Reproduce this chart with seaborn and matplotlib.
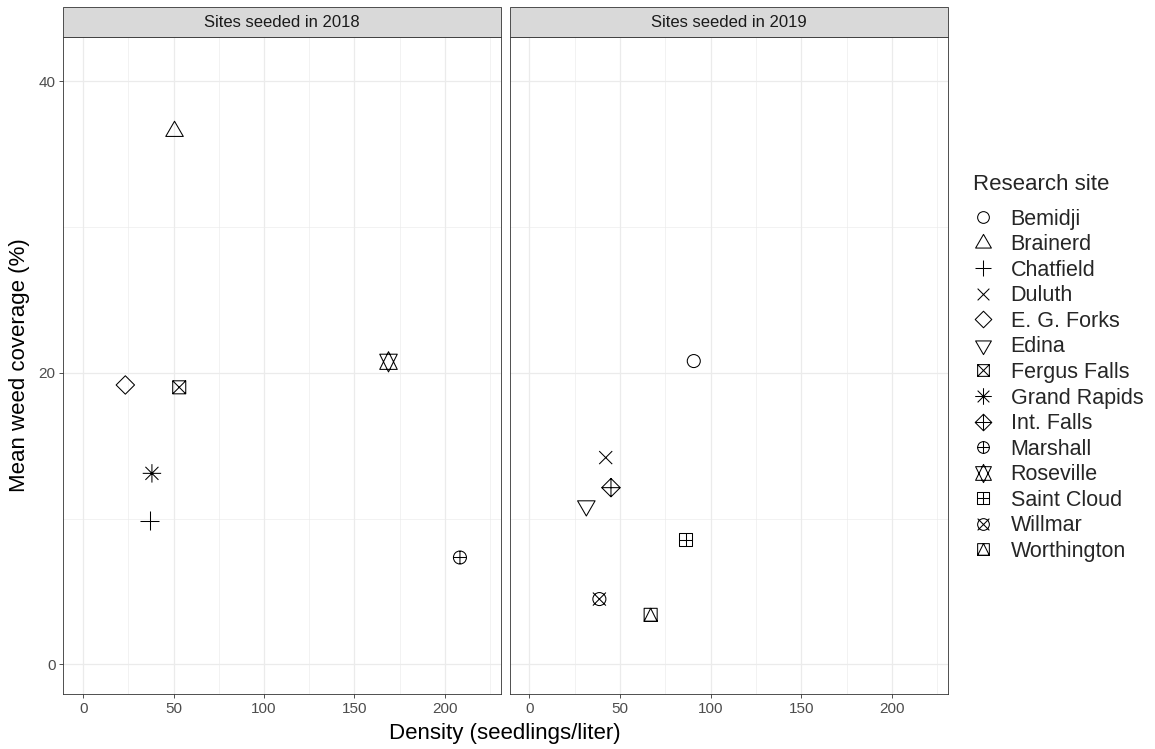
import numpy as np
import pandas as pd
import matplotlib
matplotlib.use("Agg")
import matplotlib.pyplot as plt
from matplotlib.path import Path
from matplotlib.lines import Line2D
from matplotlib.patches import Rectangle
import seaborn as sns

# ---------------- data ----------------
sites = ["Bemidji", "Brainerd", "Chatfield", "Duluth", "E. G. Forks", "Edina",
         "Fergus Falls", "Grand Rapids", "Int. Falls", "Marshall", "Roseville",
         "Saint Cloud", "Willmar", "Worthington"]
seed_year = [2019, 2018, 2018, 2019, 2018, 2019, 2018, 2018, 2019, 2018, 2018,
             2019, 2019, 2019]
density = [90.7, 50.5, 36.7, 42.1, 23.3, 31.4, 53.1, 38.0, 45.0, 208.3, 168.8,
           86.3, 38.6, 66.9]
coverage = [20.8, 36.55, 9.86, 14.18, 19.16, 10.87, 19.0, 13.1, 12.12, 7.33,
            20.75, 8.56, 4.48, 3.40]
panel_titles = ["Sites seeded in 2018", "Sites seeded in 2019"]
panel_years = [2018, 2019]
x_ticks = [0, 50, 100, 150, 200]
y_ticks = [0, 20, 40]

df = pd.DataFrame({"site": sites, "year": seed_year,
                   "density": density, "coverage": coverage})

# ---------------- R-like point shapes ----------------
PAD = 1.6
T0, T1, T2 = 1.5551, 1.3468, 0.7776
S2 = np.sqrt(2)


def poly(pts):
    pts = list(pts)
    return Path(pts + [pts[0]], [Path.MOVETO] + [Path.LINETO] * (len(pts) - 1) + [Path.CLOSEPOLY])


def seg(a, b):
    return Path([a, b], [Path.MOVETO, Path.LINETO])


def circ(r=1.0):
    return Path.circle((0, 0), r)


def combine(*parts):
    verts = [(PAD, PAD)]
    codes = [Path.MOVETO]
    for p in parts:
        verts.extend([tuple(v) for v in p.vertices])
        codes.extend(list(p.codes))
    return Path(np.array(verts, float), np.array(codes, np.uint8))


plus1 = [seg((-1, 0), (1, 0)), seg((0, -1), (0, 1))]
plusS = [seg((-S2, 0), (S2, 0)), seg((0, -S2), (0, S2))]
cross1 = [seg((-1, -1), (1, 1)), seg((-1, 1), (1, -1))]
square1 = poly([(-1, -1), (1, -1), (1, 1), (-1, 1)])
diamondS = poly([(0, S2), (S2, 0), (0, -S2), (-S2, 0)])
yc = 0.5 * (T0 + T2)

shape_paths = {
    "Bemidji": combine(circ()),
    "Brainerd": combine(poly([(0, T0), (T1, -T2), (-T1, -T2)])),
    "Chatfield": combine(*plusS),
    "Duluth": combine(*cross1),
    "E. G. Forks": combine(diamondS),
    "Edina": combine(poly([(0, -T0), (T1, T2), (-T1, T2)])),
    "Fergus Falls": combine(square1, *cross1),
    "Grand Rapids": combine(*plusS, *cross1),
    "Int. Falls": combine(diamondS, *plusS),
    "Marshall": combine(circ(), *plus1),
    "Roseville": combine(poly([(0, T0), (T1, -yc), (-T1, -yc)]),
                         poly([(0, -T0), (T1, yc), (-T1, yc)])),
    "Saint Cloud": combine(square1, *plus1),
    "Willmar": combine(circ(), *cross1),
    "Worthington": combine(square1, poly([(0, 1), (1, -1), (-1, -1)])),
}

# ---------------- style ----------------
sns.set_theme(style="white")
plt.rcParams["font.family"] = ["Liberation Sans", "DejaVu Sans"]

MS = 15.0  # marker size in points
LW = 0.75
GRID = "#EBEBEB"
BORDER = "#333333"

fig = plt.figure(figsize=(11.55, 7.49), dpi=100)
W, H = 1155, 749
bottom = 1 - 694.3 / H
top = 1 - 37.3 / H
axes = [
    fig.add_axes([63.3 / W, bottom, (501 - 63.3) / W, top - bottom]),
    fig.add_axes([509.5 / W, bottom, (948 - 509.5) / W, top - bottom]),
]

for i, (ax, yr, title) in enumerate(zip(axes, panel_years, panel_titles)):
    sub = df[df["year"] == yr]
    sns.scatterplot(data=sub, x="density", y="coverage", style="site",
                    style_order=list(sub["site"]),
                    markers={k: shape_paths[k] for k in sub["site"]},
                    s=MS ** 2, facecolor="none", edgecolor="black",
                    linewidth=LW, legend=False, ax=ax, zorder=3)
    ax.set_xlim(-11, 231)
    ax.set_ylim(-2.05, 43.0)
    ax.set_xticks(x_ticks)
    ax.set_xticks([25, 75, 125, 175, 225], minor=True)
    ax.set_yticks(y_ticks)
    ax.set_yticks([10, 30], minor=True)
    ax.grid(True, which="major", color=GRID, lw=0.9, zorder=0)
    ax.grid(True, which="minor", color=GRID, lw=0.45, zorder=0)
    ax.set_axisbelow(True)
    for sp in ax.spines.values():
        sp.set_color(BORDER)
        sp.set_linewidth(0.6)
        sp.set_visible(True)
    ax.set_xlabel("")
    ax.set_ylabel("")
    ax.tick_params(axis="x", which="major", bottom=True, length=3.2, width=0.6,
                   color=BORDER, labelsize=11, labelcolor="#4D4D4D", pad=2.5)
    ax.tick_params(axis="both", which="minor", length=0)
    if i == 0:
        ax.tick_params(axis="y", which="major", left=True, length=3.2, width=0.6,
                       color=BORDER, labelsize=11, labelcolor="#4D4D4D", pad=2.5)
    else:
        ax.tick_params(axis="y", which="major", left=False, labelleft=False)
    sh = 30.0 / 657.0
    ax.add_patch(Rectangle((0, 1), 1, sh, transform=ax.transAxes, clip_on=False,
                           facecolor="#D9D9D9", edgecolor=BORDER, lw=0.6, zorder=5))
    ax.text(0.5, 1 + sh / 2, title, transform=ax.transAxes, ha="center",
            va="center", fontsize=12, color="#1A1A1A", zorder=6)

fig.text(505 / W, 1 - 733 / H, "Density (seedlings/liter)", ha="center",
         va="center", fontsize=16, color="black")
fig.text(20 / W, 1 - 365 / H, "Mean weed coverage (%)", ha="center",
         va="center", rotation=90, fontsize=16, color="black")

handles = [Line2D([], [], linestyle="none", marker=shape_paths[s],
                  markersize=MS * 0.9, markerfacecolor="none",
                  markeredgecolor="black", markeredgewidth=LW) for s in sites]
leg = fig.legend(handles, sites, title="Research site", loc="upper left",
                 bbox_to_anchor=(973 / W, 1 - 174 / H), frameon=False,
                 fontsize=15.5, title_fontsize=16, labelspacing=0.21,
                 handlelength=0.9, handletextpad=0.85, borderaxespad=0,
                 borderpad=0)
leg._legend_box.align = "left"
leg._legend_box.sep = 10

fig.savefig("out.png", dpi=100)
